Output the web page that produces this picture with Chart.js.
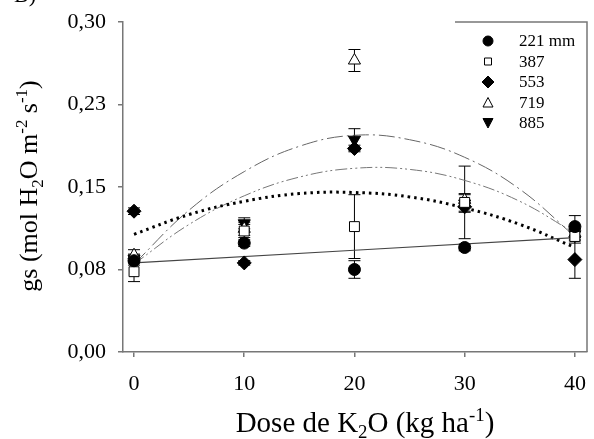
<!DOCTYPE html>
<html>
<head>
<meta charset="utf-8">
<script src="https://cdn.jsdelivr.net/npm/chart.js@4.4.0/dist/chart.umd.min.js"></script>
<style>
  html, body { margin: 0; padding: 0; background: #fff; }
  #wrap { width: 594px; height: 439px; position: relative; }
</style>
</head>
<body>
<div id="wrap"><canvas id="chart"></canvas></div>
<script>
// doses de K2O (kg/ha)
const doses = [0, 10, 20, 30, 40];

// gs medio por lamina de agua
const gs221 = [0.083, 0.099, 0.075, 0.095, 0.114];
const gs387 = [0.073, 0.110, 0.114, 0.136, 0.105];
const gs553 = [0.128, 0.081, 0.185, 0.132, 0.084];
const gs719 = [0.088, 0.112, 0.265, 0.138, 0.108];
const gs885 = [0.085, 0.117, 0.193, 0.135, 0.107];

// desvios (barras de erro)
const err221 = [0.004, 0.003, 0.008, 0.003, 0.010];
const err387 = [0.009, 0.006, 0.029, 0.033, 0.006];
const err553 = [0.003, 0.002, 0.003, 0.004, 0.017];
const err719 = [0.005, 0.006, 0.010, 0.006, 0.004];
const err885 = [0.004, 0.005, 0.010, 0.008, 0.005];

// curvas de regressao
const fitX = [0, 5, 10, 15, 20, 25, 30, 35, 40];
const fitLinear = [0.081, 0.104];
const fitDotted = [0.107, 0.125, 0.137, 0.144, 0.145, 0.141, 0.131, 0.116, 0.095];
const fitDashDot = [0.080, 0.129, 0.164, 0.187, 0.197, 0.193, 0.177, 0.148, 0.105];
const fitDashDotDot = [0.080, 0.116, 0.142, 0.159, 0.167, 0.166, 0.156, 0.137, 0.108];

// eixos
const yTicks = [0, 0.075, 0.15, 0.225, 0.30];
const yTickLabels = ['0,00', '0,08', '0,15', '0,23', '0,30'];
const legendLabels = ['221 mm', '387', '553', '719', '885'];

const SERIF = "'Liberation Serif', 'Times New Roman', serif";
const AXIS = '#777';

function pts(xs, ys) {
    return ys.map((v, i) => ({ x: xs[i], y: v }));
}

const series = [
    { label: legendLabels[0], data: gs221, err: err221, style: 'circle', rot: 0, fill: '#000', r: 6 },
    { label: legendLabels[1], data: gs387, err: err387, style: 'rect', rot: 0, fill: '#fff', r: 7 },
    { label: legendLabels[2], data: gs553, err: err553, style: 'rectRot', rot: 0, fill: '#000', r: 7 },
    { label: legendLabels[3], data: gs719, err: err719, style: 'triangle', rot: 0, fill: '#fff', r: 7 },
    { label: legendLabels[4], data: gs885, err: err885, style: 'triangle', rot: 180, fill: '#000', r: 7 }
];

const pointSets = series.map(s => ({
    type: 'scatter',
    label: s.label,
    data: pts(doses, s.data),
    errors: s.err,
    pointStyle: s.style,
    rotation: s.rot,
    pointRadius: s.r,
    pointHoverRadius: s.r,
    backgroundColor: s.fill,
    borderColor: '#000',
    borderWidth: 1,
    order: 1
}));

const curveSets = [
    { data: pts([0, 40], fitLinear), borderColor: '#444', borderWidth: 1.2, borderDash: [] },
    { data: pts(fitX, fitDotted), borderColor: '#000', borderWidth: 3, borderDash: [2.5, 4] },
    { data: pts(fitX, fitDashDot), borderColor: '#666', borderWidth: 1, borderDash: [16, 4, 2, 4] },
    { data: pts(fitX, fitDashDotDot), borderColor: '#777', borderWidth: 1, borderDash: [12, 3, 2, 3, 2, 3] }
].map(c => Object.assign({
    type: 'line',
    label: '',
    pointRadius: 0,
    fill: false,
    tension: 0.4,
    order: 10
}, c));

// desenha texto com sub/sobrescritos
function richWidth(ctx, parts, size) {
    let w = 0;
    parts.forEach(p => {
        const fs = p.s ? size * 0.65 : size;
        ctx.font = fs + 'px ' + SERIF;
        w += ctx.measureText(p.t).width;
    });
    return w;
}
function drawRich(ctx, parts, cx, y, size) {
    let x = cx - richWidth(ctx, parts, size) / 2;
    ctx.textBaseline = 'alphabetic';
    ctx.textAlign = 'left';
    parts.forEach(p => {
        const fs = p.s ? size * 0.65 : size;
        ctx.font = fs + 'px ' + SERIF;
        let dy = 0;
        if (p.s === 'sub') dy = size * 0.22;
        if (p.s === 'sup') dy = -size * 0.38;
        ctx.fillText(p.t, x, y + dy);
        x += ctx.measureText(p.t).width;
    });
}

const errorBars = {
    id: 'errorBars',
    beforeDatasetsDraw(chart) {
        const ctx = chart.ctx;
        const xs = chart.scales.x, ys = chart.scales.y;
        ctx.save();
        ctx.strokeStyle = '#000';
        ctx.lineWidth = 1;
        chart.data.datasets.forEach(ds => {
            if (!ds.errors) return;
            ds.data.forEach((p, i) => {
                const e = ds.errors[i];
                const px = xs.getPixelForValue(p.x);
                const y1 = ys.getPixelForValue(p.y + e);
                const y2 = ys.getPixelForValue(p.y - e);
                ctx.beginPath();
                ctx.moveTo(px, y1); ctx.lineTo(px, y2);
                ctx.moveTo(px - 6, y1); ctx.lineTo(px + 6, y1);
                ctx.moveTo(px - 6, y2); ctx.lineTo(px + 6, y2);
                ctx.stroke();
            });
        });
        ctx.restore();
    }
};

function legendMarker(ctx, s, x, y) {
    ctx.beginPath();
    if (s.style === 'circle') {
        ctx.arc(x, y, 5, 0, Math.PI * 2);
    } else if (s.style === 'rect') {
        ctx.rect(x - 3.5, y - 3.5, 7, 7);
    } else if (s.style === 'rectRot') {
        ctx.moveTo(x, y - 6); ctx.lineTo(x + 6, y); ctx.lineTo(x, y + 6); ctx.lineTo(x - 6, y);
        ctx.closePath();
    } else if (s.rot === 180) {
        ctx.moveTo(x - 5, y - 4.5); ctx.lineTo(x + 5, y - 4.5); ctx.lineTo(x, y + 5);
        ctx.closePath();
    } else {
        ctx.moveTo(x - 5, y + 4.5); ctx.lineTo(x + 5, y + 4.5); ctx.lineTo(x, y - 5);
        ctx.closePath();
    }
    ctx.fillStyle = s.fill;
    ctx.fill();
    ctx.strokeStyle = '#000';
    ctx.lineWidth = 1;
    ctx.stroke();
}

const decor = {
    id: 'decor',
    afterDraw(chart) {
        const ctx = chart.ctx;
        const a = chart.chartArea;
        ctx.save();
        // moldura direita e topo da legenda
        ctx.strokeStyle = AXIS;
        ctx.lineWidth = 1.5;
        ctx.beginPath();
        ctx.moveTo(a.right, a.bottom);
        ctx.lineTo(a.right, a.top);
        ctx.lineTo(455, a.top);
        ctx.stroke();

        // legenda
        series.forEach((s, i) => {
            const y = 41 + i * 20.5;
            legendMarker(ctx, s, 488, y);
            ctx.fillStyle = '#000';
            ctx.font = '17px ' + SERIF;
            ctx.textBaseline = 'middle';
            ctx.textAlign = 'left';
            ctx.fillText(s.label, 519, y + 1);
        });

        // titulos dos eixos
        ctx.fillStyle = '#000';
        drawRich(ctx, [
            { t: 'Dose de K' }, { t: '2', s: 'sub' }, { t: 'O (kg ha' }, { t: '-1', s: 'sup' }, { t: ')' }
        ], 365, 432, 29);

        ctx.translate(37, 186);
        ctx.rotate(-Math.PI / 2);
        drawRich(ctx, [
            { t: 'gs (mol H' }, { t: '2', s: 'sub' }, { t: 'O m' }, { t: '-2', s: 'sup' }, { t: ' s' }, { t: '-1', s: 'sup' }, { t: ')' }
        ], 0, 0, 26);
        ctx.restore();

        // "B)" cortado no topo
        ctx.save();
        ctx.fillStyle = '#000';
        ctx.font = '22px ' + SERIF;
        ctx.textBaseline = 'alphabetic';
        ctx.fillText('B)', 14, 2);
        ctx.restore();
    }
};

function fixBox(size, prop) {
    return s => {
        s[prop] = size;
        s.paddingLeft = 0; s.paddingRight = 0;
        s.paddingTop = 0; s.paddingBottom = 0;
    };
}

new Chart(document.getElementById('chart'), {
    type: 'scatter',
    data: { datasets: [...curveSets, ...pointSets] },
    options: {
        responsive: true,
        maintainAspectRatio: false,
        animation: false,
        layout: { autoPadding: false, padding: { top: 22, right: 7, left: 0, bottom: 0 } },
        plugins: {
            legend: { display: false },
            tooltip: { enabled: false }
        },
        scales: {
            x: {
                type: 'linear',
                min: -1,
                max: 41.1,
                afterBuildTicks: s => { s.ticks = doses.map(v => ({ value: v })); },
                afterFit: fixBox(87, 'height'),
                border: { color: AXIS, width: 1.5 },
                grid: { drawOnChartArea: false, drawTicks: true, tickLength: 5, color: AXIS, lineWidth: 1.5 },
                ticks: { color: '#000', font: { family: SERIF, size: 22 }, padding: 14, maxRotation: 0, callback: v => String(v) }
            },
            y: {
                type: 'linear',
                min: 0,
                max: 0.30,
                afterBuildTicks: s => { s.ticks = yTicks.map(v => ({ value: v })); },
                afterFit: fixBox(123, 'width'),
                border: { color: AXIS, width: 1.5 },
                grid: { drawOnChartArea: false, drawTicks: true, tickLength: 5, color: AXIS, lineWidth: 1.5 },
                ticks: { color: '#000', font: { family: SERIF, size: 22 }, padding: 12, callback: (v, i) => yTickLabels[i] }
            }
        }
    },
    plugins: [errorBars, decor]
});
</script>
</body>
</html>
